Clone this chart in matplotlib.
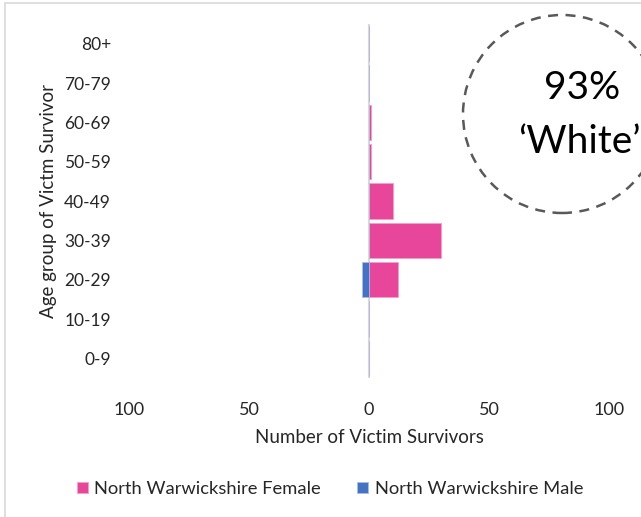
import numpy as np
import matplotlib.pyplot as plt
from matplotlib.patches import Rectangle, Ellipse

plt.rcParams['font.family'] = ['Lato', 'DejaVu Sans']

ages = ['0-9', '10-19', '20-29', '30-39', '40-49', '50-59', '60-69', '70-79', '80+']
female = [0, 0, 12, 30, 10, 1, 1, 0, 0]
male = [0, 0, 3, 0, 0, 0, 0, 0, 0]
ticks = [-100, -50, 0, 50, 100]

pink = '#E8469A'
blue = '#4472C4'
txt = '#262626'

fig = plt.figure(figsize=(6.41, 5.17), dpi=100)
W, H = 641, 517
ax = fig.add_axes([129 / W, 1 - 378 / H, 480 / W, 354 / H])

yy = np.arange(len(ages))
ax.barh(yy, female, height=0.9, color=pink, edgecolor='#F2A0C8', lw=0.6, label='North Warwickshire Female')
ax.barh(yy, -np.array(male), height=0.9, color=blue, edgecolor='#A9BCE5', lw=0.6, label='North Warwickshire Male')
ax.axvline(0, color='#D9D9D9', lw=1.5, zorder=0)

ax.set_xlim(-100, 100)
ax.set_ylim(-0.5, len(ages) - 0.5)
ax.set_yticks(yy)
ax.set_yticklabels(ages, fontsize=12.5, color=txt)
ax.set_xticks(ticks)
ax.set_xticklabels([str(abs(t)) for t in ticks], fontsize=13, color=txt)
ax.tick_params(length=0, pad=17, axis='x')
ax.tick_params(length=0, pad=13, axis='y')
for s in ax.spines.values():
    s.set_visible(False)
ax.set_xlabel('Number of Victim Survivors', fontsize=13.5, color=txt, labelpad=8)
ax.set_ylabel('Age group of Victm Survivor', fontsize=13.5, color=txt, labelpad=5)

ax.legend(loc='center', bbox_to_anchor=(330 / W, 1 - 489 / H), bbox_transform=fig.transFigure,
          ncol=2, frameon=False, fontsize=13.2, handlelength=0.6, handleheight=0.6,
          columnspacing=2.0, handletextpad=0.35, labelcolor=txt)

# outer frame
fig.patches.append(Rectangle((5 / W, -0.1), 1.2, 1 - 3 / H + 0.1, transform=fig.transFigure,
                             fill=False, edgecolor='#D9D9D9', lw=1.2))

# dashed circle annotation
fig.patches.append(Ellipse((562 / W, 1 - 114 / H), 198 / W, 198 / H, transform=fig.transFigure,
                           fill=False, edgecolor='#595959', lw=1.8, ls=(0, (4, 3))))
fig.text(582 / W, 1 - 88 / H, '93%', fontsize=28, ha='center', va='center', color='black')
fig.text(579 / W, 1 - 142 / H, '\u2018White\u2019', fontsize=28, ha='center', va='center', color='black')

fig.savefig('out.png', dpi=100)
